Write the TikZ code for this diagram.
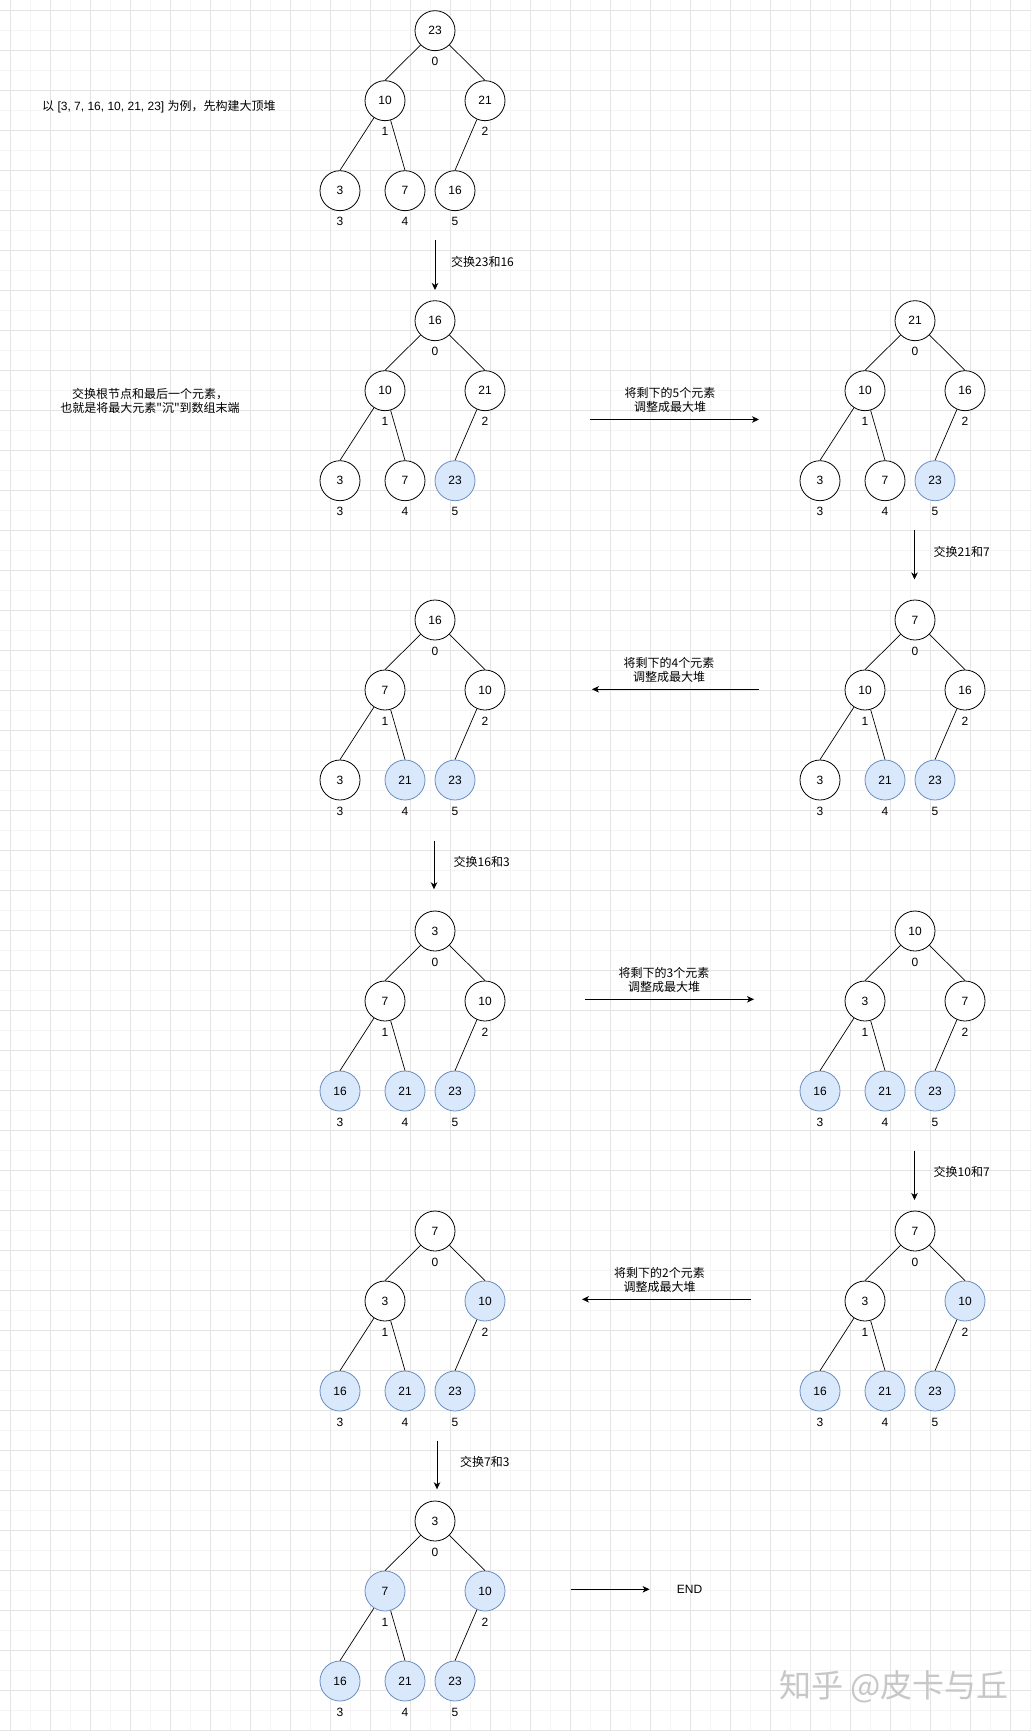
\documentclass[tikz,border=0pt]{standalone}
\usepackage{fontspec}
\setmainfont{Liberation Sans}
\newfontfamily\cjk{Noto Sans CJK SC}
\usetikzlibrary{arrows.meta}
\definecolor{hotfill}{HTML}{DAE8FC}
\definecolor{hotdraw}{HTML}{6C8EBF}
\definecolor{gridmajor}{HTML}{E4E4E4}
\definecolor{gridminor}{HTML}{F5F5F5}
\tikzset{
  hn/.style={circle, draw=black, line width=0.8pt, minimum size=40pt, inner sep=0pt, fill=white, font=\fontsize{12}{14}\selectfont},
  hot/.style={hn, fill=hotfill, draw=hotdraw},
  idx/.style={inner sep=0pt, font=\fontsize{12}{14}\selectfont},
  edge/.style={line width=0.7pt, draw=black},
  arr/.style={line width=0.9pt, -{Stealth[length=7pt,width=6.5pt,inset=2pt]}},
  lab/.style={inner sep=0pt, align=center, font=\cjk\fontsize{12}{14}\selectfont},
  gmaj/.style={draw=gridmajor, line width=0.8pt},
  gmin/.style={draw=gridminor, line width=0.8pt}
}
\newcommand\myhnode[5]{%
  \ifnum#4<#5\relax \node[hn] (#1) at (#2) {#3};\else \node[hot] (#1) at (#2) {#3};\fi}
\newcommand\myheap[9]{%
  \begin{scope}[shift={(#2)}]
    \myhnode{#1-0}{0,0}{#4}{0}{#3}
    \myhnode{#1-1}{-50,70}{#5}{1}{#3}
    \myhnode{#1-2}{50,70}{#6}{2}{#3}
    \myhnode{#1-3}{-95,160}{#7}{3}{#3}
    \myhnode{#1-4}{-30,160}{#8}{4}{#3}
    \myhnode{#1-5}{20,160}{#9}{5}{#3}
    \node[idx] (#1-i0) at (0,31) {0};
    \node[idx] (#1-i1) at (-50,101) {1};
    \node[idx] (#1-i2) at (50,101) {2};
    \node[idx] (#1-i3) at (-95,191) {3};
    \node[idx] (#1-i4) at (-30,191) {4};
    \node[idx] (#1-i5) at (20,191) {5};
    \draw[edge] (#1-0) -- (#1-1.north);
    \draw[edge] (#1-0) -- (#1-2.north);
    \draw[edge] (#1-1) -- (#1-3.north);
    \draw[edge] (#1-1) -- (#1-4.north);
    \draw[edge] (#1-2) -- (#1-5.north);
  \end{scope}}
\begin{document}
\begin{tikzpicture}[x=1pt,y=-1pt]
\useasboundingbox (0,0) rectangle (1031,1731);
\fill[white] (0,0) rectangle (1031,1731);
% grid
\foreach \g in {30,70,...,1030} \draw[gmin] (\g,0) -- (\g,1731);
\foreach \g in {30,70,...,1730} \draw[gmin] (0,\g) -- (1031,\g);
\foreach \g in {10,50,...,1030} \draw[gmaj] (\g,0) -- (\g,1731);
\foreach \g in {10,50,...,1730} \draw[gmaj] (0,\g) -- (1031,\g);

% trees
\myheap{t1}{435,30.7}{6}{23}{10}{21}{3}{7}{16}
\myheap{t2l}{435,320.7}{5}{16}{10}{21}{3}{7}{23}
\myheap{t2r}{915,320.7}{5}{21}{10}{16}{3}{7}{23}
\myheap{t3l}{435,620}{4}{16}{7}{10}{3}{21}{23}
\myheap{t3r}{915,620}{4}{7}{10}{16}{3}{21}{23}
\myheap{t4l}{435,931}{3}{3}{7}{10}{16}{21}{23}
\myheap{t4r}{915,931}{3}{10}{3}{7}{16}{21}{23}
\myheap{t5l}{435,1231}{2}{7}{3}{10}{16}{21}{23}
\myheap{t5r}{915,1231}{2}{7}{3}{10}{16}{21}{23}
\myheap{t6}{435,1521}{1}{3}{7}{10}{16}{21}{23}

% side texts
\node[lab, anchor=west] (intro) at (42,107) {以{\rmfamily\fontsize{12}{14}\selectfont\ [3, 7, 16, 10, 21, 23] }为例，先构建大顶堆};
\node[lab] (swapnote) at (150,401) {交换根节点和最后一个元素，\\也就是将最大元素"沉"到数组末端};

% arrow 1 (down)
\coordinate (a1s) at (435,240); \coordinate (a1e) at (435,290);
\draw[arr] (a1s) -- (a1e);
\node[lab, anchor=west] (l1) at (451,262) {交换23和16};
% arrow 2 (right)
\coordinate (a2s) at (590,419.5); \coordinate (a2e) at (759,419.5);
\draw[arr] (a2s) -- (a2e);
\node[lab] (l2) at (670,400) {将剩下的5个元素\\调整成最大堆};
% arrow 3 (down)
\coordinate (a3s) at (914.5,530); \coordinate (a3e) at (914.5,579.5);
\draw[arr] (a3s) -- (a3e);
\node[lab, anchor=west] (l3) at (933.5,551.7) {交换21和7};
% arrow 4 (left)
\coordinate (a4s) at (759,689.3); \coordinate (a4e) at (592,689.3);
\draw[arr] (a4s) -- (a4e);
\node[lab] (l4) at (669,669.5) {将剩下的4个元素\\调整成最大堆};
% arrow 5 (down)
\coordinate (a5s) at (434,840.7); \coordinate (a5e) at (434,889.3);
\draw[arr] (a5s) -- (a5e);
\node[lab, anchor=west] (l5) at (453.5,861.7) {交换16和3};
% arrow 6 (right)
\coordinate (a6s) at (585,999.3); \coordinate (a6e) at (754,999.3);
\draw[arr] (a6s) -- (a6e);
\node[lab] (l6) at (664,980) {将剩下的3个元素\\调整成最大堆};
% arrow 7 (down)
\coordinate (a7s) at (914.5,1150.7); \coordinate (a7e) at (914.5,1200);
\draw[arr] (a7s) -- (a7e);
\node[lab, anchor=west] (l7) at (933.5,1171.7) {交换10和7};
% arrow 8 (left)
\coordinate (a8s) at (751,1299.3); \coordinate (a8e) at (582,1299.3);
\draw[arr] (a8s) -- (a8e);
\node[lab] (l8) at (659.5,1280) {将剩下的2个元素\\调整成最大堆};
% arrow 9 (down)
\coordinate (a9s) at (437,1440.7); \coordinate (a9e) at (437,1489.3);
\draw[arr] (a9s) -- (a9e);
\node[lab, anchor=west] (l9) at (460,1461.7) {交换7和3};
% arrow 10 (right) to END
\node[idx] (endn) at (689.5,1589.3) {END};
\coordinate (a10s) at (570.7,1589.3);
\draw[arr] (a10s) -- (endn.west -| 649.6,0);

% watermark
\node[inner sep=0pt, anchor=west, text=black!22, font=\cjk\fontsize{32}{34}\selectfont] (wm) at (779,1687) {知乎 @皮卡与丘};
\end{tikzpicture}
\end{document}
